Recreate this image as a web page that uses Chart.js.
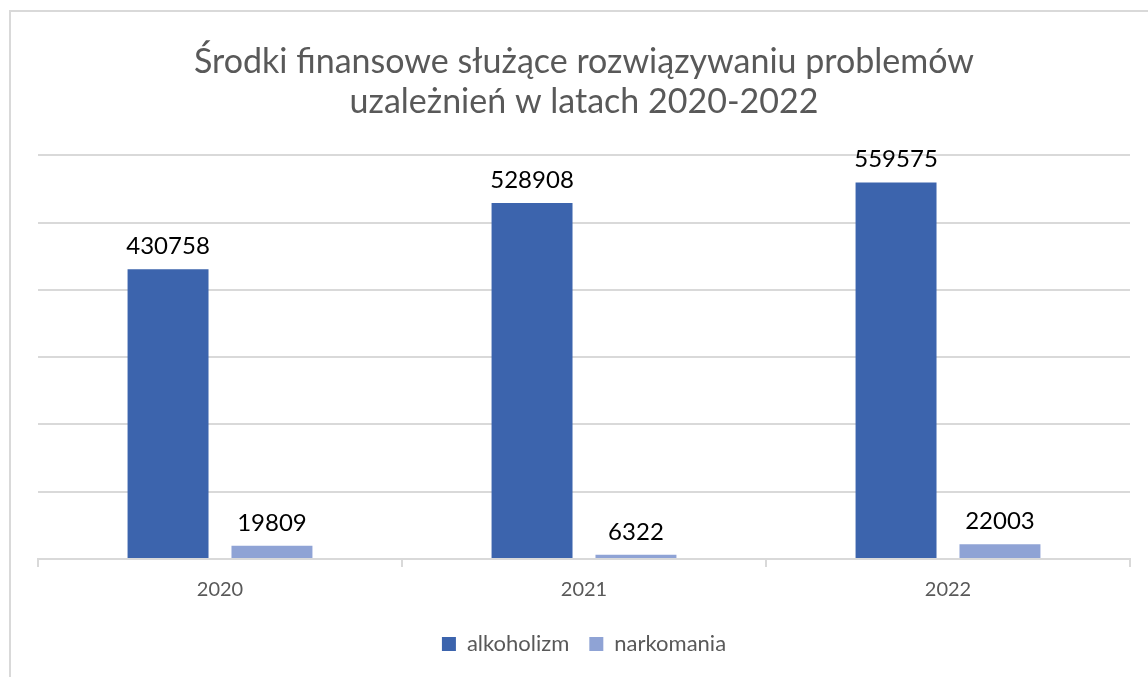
<!DOCTYPE html>
<html>
<head>
<meta charset="utf-8">
<script src="https://cdn.jsdelivr.net/npm/chart.js@4"></script>
<style>
  html, body { margin: 0; padding: 0; background: #fff; overflow: hidden; }
  #frame {
    position: absolute; left: 9px; top: 10px;
    width: 1200px; height: 720px;
    border: 2px solid #d9d9d9;
  }
  #wrap { position: absolute; left: 0; top: 0; width: 1148px; height: 677px; }
</style>
</head>
<body>
<div id="frame"></div>
<div id="wrap"><canvas id="chart"></canvas></div>
<script>
const years = ['2020', '2021', '2022'];
const alkoholizm = [430758, 528908, 559575];
const narkomania = [19809, 6322, 22003];
const yTicks = [0, 100000, 200000, 300000, 400000, 500000, 600000];

const textGray = '#595959';

// draws the values above each bar
const barValues = {
    id: 'barValues',
    afterDatasetsDraw(chart) {
        const ctx = chart.ctx;
        ctx.save();
        ctx.font = '24px Lato';
        ctx.fillStyle = '#000';
        ctx.textAlign = 'center';
        ctx.textBaseline = 'alphabetic';
        chart.data.datasets.forEach((ds, i) => {
            chart.getDatasetMeta(i).data.forEach((bar, j) => {
                ctx.fillText(String(ds.data[j]), bar.x, bar.y - 15);
            });
        });
        ctx.restore();
    }
};

const chart = document.querySelector('#chart').getContext('2d');

new Chart(chart, {
    type: 'bar',
    data: {
        labels: years,
        datasets: [
            {
                label: 'alkoholizm',
                data: alkoholizm,
                backgroundColor: '#3c64ad'
            },
            {
                label: 'narkomania',
                data: narkomania,
                backgroundColor: '#8fa3d5'
            }
        ]
    },
    options: {
        responsive: true,
        maintainAspectRatio: false,
        animation: false,
        categoryPercentage: 0.571,
        barPercentage: 0.779,
        layout: {
            padding: { left: 38, right: 18, top: 42, bottom: 12 }
        },
        plugins: {
            title: {
                display: true,
                text: ['Środki finansowe służące rozwiązywaniu problemów', 'uzależnień w latach 2020-2022'],
                color: textGray,
                font: { family: 'Lato', size: 34, weight: '400', lineHeight: 1.18 },
                padding: { top: 0, bottom: 33 }
            },
            legend: {
                position: 'bottom',
                labels: {
                    boxWidth: 14,
                    boxHeight: 14,
                    color: textGray,
                    padding: 20,
                    font: { family: 'Lato', size: 22 }
                }
            },
            tooltip: { enabled: false }
        },
        scales: {
            x: {
                grid: {
                    drawOnChartArea: false,
                    drawTicks: true,
                    tickLength: 8,
                    color: '#d9d9d9',
                    lineWidth: 2
                },
                border: { display: true, color: '#d9d9d9', width: 2 },
                ticks: {
                    color: textGray,
                    padding: 11,
                    font: { family: 'Lato', size: 20 }
                }
            },
            y: {
                min: 0,
                max: yTicks[yTicks.length - 1],
                afterBuildTicks: (axis) => {
                    axis.ticks = yTicks.map(v => ({ value: v }));
                },
                ticks: { display: false },
                grid: { color: '#d9d9d9', lineWidth: 2, drawTicks: false },
                border: { display: false }
            }
        }
    },
    plugins: [barValues]
});
</script>
</body>
</html>
